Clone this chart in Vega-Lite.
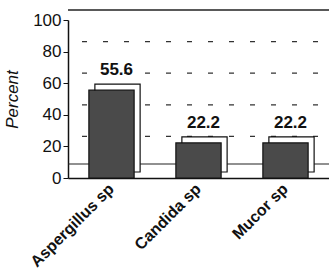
{
  "$schema": "https://vega.github.io/schema/vega-lite/v6.json",
  "width": 261,
  "height": 158,
  "autosize": "none",
  "padding": {"left": 68, "top": 20, "right": 0, "bottom": 96},
  "background": "white",
  "config": {
    "view": {"stroke": null},
    "font": "Liberation Sans",
    "axisY": {"grid": false, "labelFontSize": 17, "labelColor": "#111",
      "labelOverlap": false, "labelFlush": false, "values": [0, 20, 40, 60, 80, 100],
      "tickSize": 5, "tickColor": "#111", "domainColor": "#111", "domainWidth": 1.5, "labelPadding": 2}
  },
  "data": {"values": [
    {"genus": "Aspergillus sp", "percent": 55.6},
    {"genus": "Candida sp", "percent": 22.2},
    {"genus": "Mucor sp", "percent": 22.2}
  ]},
  "encoding": {
    "x": {"field": "genus", "type": "nominal", "sort": null,
      "scale": {"paddingInner": 0.48},
      "axis": {"title": null, "labelAngle": -45, "labelAlign": "right", "labelBaseline": "middle",
        "labelFontSize": 16, "labelFontWeight": "bold", "labelColor": "#111", "ticks": false,
        "labelPadding": 8, "domainColor": "#111", "domainWidth": 1.5, "labelOverlap": false}}
  },
  "layer": [
    {
      "data": {"values": [{"g": 20}, {"g": 40}, {"g": 60}, {"g": 80}]},
      "mark": {"type": "rule", "strokeDash": [5, 16], "color": "#333", "strokeWidth": 1.3, "yOffset": -10, "xOffset": 10},
      "encoding": {"y": {"field": "g", "type": "quantitative", "title": "Percent", "scale": {"domain": [0, 100]},
        "axis": {"titleFontStyle": "italic", "titleFontWeight": "normal", "titleFontSize": 17,
          "titleColor": "#111", "titleX": -47, "titleFont": "Liberation Sans"}}, "x": null}
    },
    {
      "data": {"values": [{"g": 100}]},
      "mark": {"type": "rule", "color": "#222", "strokeWidth": 1.5, "yOffset": -10, "xOffset": 12},
      "encoding": {"y": {"field": "g", "type": "quantitative", "title": "Percent"}, "x": null}
    },
    {
      "data": {"values": [{"g": 0}]},
      "mark": {"type": "rule", "color": "#222", "strokeWidth": 1.2, "yOffset": -14, "xOffset": 8},
      "encoding": {"y": {"field": "g", "type": "quantitative", "title": "Percent"}, "x": null}
    },
    {
      "mark": {"type": "bar", "fill": "white", "stroke": "#111", "strokeWidth": 1.2,
        "xOffset": 6, "x2Offset": 6, "yOffset": -6, "y2Offset": -6},
      "encoding": {"y": {"field": "percent", "type": "quantitative", "title": "Percent"}}
    },
    {
      "mark": {"type": "bar", "fill": "#4a4a4a", "stroke": "#111", "strokeWidth": 1.2},
      "encoding": {"y": {"field": "percent", "type": "quantitative", "title": "Percent"}}
    },
    {
      "mark": {"type": "text", "fontSize": 17, "fontWeight": "bold", "baseline": "alphabetic", "dy": -15, "dx": 5, "color": "#111"},
      "encoding": {"y": {"field": "percent", "type": "quantitative", "title": "Percent"}, "text": {"field": "percent", "type": "quantitative", "format": ".1f"}}
    }
  ]
}
